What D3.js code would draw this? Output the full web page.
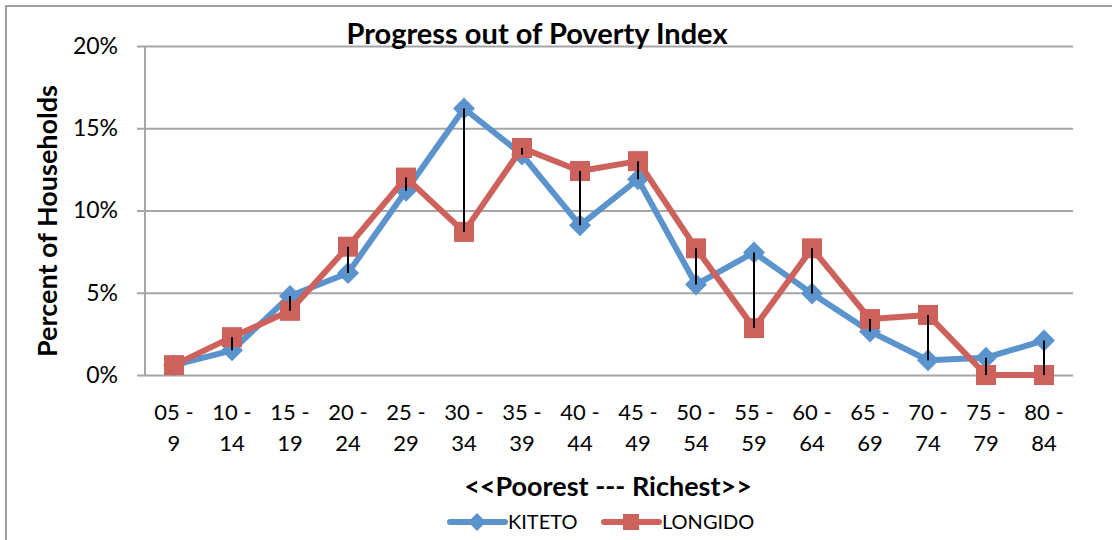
<!DOCTYPE html>
<html>
<head>
<meta charset="utf-8">
<script src="https://cdn.jsdelivr.net/npm/d3@7"></script>
<style>
  body { margin: 0; background: #fff; }
  svg text { font-family: Lato, "Open Sans", sans-serif; fill: #000; }
</style>
</head>
<body>
<script>
// Poverty score bands
const categories = ["05 - 9", "10 - 14", "15 - 19", "20 - 24", "25 - 29", "30 - 34", "35 - 39", "40 - 44",
  "45 - 49", "50 - 54", "55 - 59", "60 - 64", "65 - 69", "70 - 74", "75 - 79", "80 - 84"];
const kiteto = [0.6, 1.5, 4.8, 6.2, 11.2, 16.2, 13.4, 9.1, 11.9, 5.5, 7.45, 4.95, 2.65, 0.9, 1.05, 2.1];
const longido = [0.6, 2.3, 3.9, 7.8, 12.0, 8.7, 13.8, 12.4, 13.0, 7.7, 2.85, 7.7, 3.4, 3.65, 0, 0];
const yTicks = [0, 5, 10, 15, 20];

const width = 1112, height = 540;
const margin = { top: 46, right: 39, bottom: 165, left: 145 };

const svg = d3.select("body").append("svg")
  .attr("width", width)
  .attr("height", height);

// outer frame (right and bottom edges fall outside the picture)
svg.append("rect")
  .attr("x", 6).attr("y", 6)
  .attr("width", width + 20).attr("height", height + 20)
  .attr("fill", "none")
  .attr("stroke", "#a0a0a0")
  .attr("stroke-width", 2);

const x = d3.scaleBand()
  .domain(categories)
  .range([margin.left, width - margin.right]);

const y = d3.scaleLinear()
  .domain([0, 20])
  .range([height - margin.bottom, margin.top]);

// gridlines + y axis
const yAxis = svg.append("g")
  .attr("transform", `translate(${margin.left},0)`)
  .call(d3.axisLeft(y).tickValues(yTicks)
    .tickSize(-(width - margin.left - margin.right))
    .tickSizeOuter(0)
    .tickFormat(d => d + "%"));
yAxis.select(".domain").remove();
yAxis.selectAll(".tick line")
  .attr("x1", -8)
  .attr("stroke", "#a6a6a6")
  .attr("stroke-width", 2);
yAxis.selectAll(".tick text")
  .attr("x", -27)
  .style("font-size", "23px");

// vertical axis line
svg.append("line")
  .attr("x1", margin.left).attr("x2", margin.left)
  .attr("y1", y(20)).attr("y2", y(0))
  .attr("stroke", "#a6a6a6")
  .attr("stroke-width", 2);

// x tick labels on two lines
const xLabels = svg.append("g");
categories.forEach(c => {
  const parts = c.split(" - ");
  const t = xLabels.append("text")
    .attr("text-anchor", "middle")
    .style("font-size", "22px");
  t.append("tspan").attr("x", x(c) + x.bandwidth() / 2).attr("y", 420).text(parts[0] + " -");
  t.append("tspan").attr("x", x(c) + x.bandwidth() / 2).attr("y", 451).text(parts[1]);
});

const cx = (d, i) => x(categories[i]) + x.bandwidth() / 2;
const line = d3.line().x(cx).y(d => y(d));

const blue = "#5b93cc", red = "#cd615b";

svg.append("path")
  .datum(kiteto)
  .attr("d", line)
  .attr("fill", "none")
  .attr("stroke", blue)
  .attr("stroke-width", 6)
  .attr("stroke-linejoin", "round");

svg.selectAll("path.diamond")
  .data(kiteto)
  .enter().append("path")
  .attr("class", "diamond")
  .attr("transform", (d, i) => `translate(${cx(d, i)},${y(d)})`)
  .attr("d", "M0,-11L11,0L0,11L-11,0Z")
  .attr("fill", blue);

svg.append("path")
  .datum(longido)
  .attr("d", line)
  .attr("fill", "none")
  .attr("stroke", red)
  .attr("stroke-width", 6)
  .attr("stroke-linejoin", "round");

svg.selectAll("rect.sq")
  .data(longido)
  .enter().append("rect")
  .attr("class", "sq")
  .attr("x", (d, i) => cx(d, i) - 10)
  .attr("y", d => y(d) - 10)
  .attr("width", 20)
  .attr("height", 20)
  .attr("fill", red);

// high-low lines between the two series
svg.selectAll("line.hl")
  .data(kiteto)
  .enter().append("line")
  .attr("class", "hl")
  .attr("x1", cx).attr("x2", cx)
  .attr("y1", d => y(d))
  .attr("y2", (d, i) => y(longido[i]))
  .attr("stroke", "#000")
  .attr("stroke-width", 2);

// title
svg.append("text")
  .attr("x", 537).attr("y", 44)
  .attr("text-anchor", "middle")
  .style("font-size", "29px")
  .style("font-weight", "bold")
  .text("Progress out of Poverty Index");

// axis titles
svg.append("text")
  .attr("transform", "translate(57,221) rotate(-90)")
  .attr("text-anchor", "middle")
  .style("font-size", "27px")
  .style("font-weight", "bold")
  .text("Percent of Households");

svg.append("text")
  .attr("x", 608).attr("y", 496)
  .attr("text-anchor", "middle")
  .style("font-size", "27px")
  .style("font-weight", "bold")
  .text("<<Poorest --- Richest>>");

// legend
const legend = [
  { name: "KITETO", color: blue, shape: "diamond", x0: 450 },
  { name: "LONGIDO", color: red, shape: "square", x0: 604 }
];
legend.forEach(l => {
  const g = svg.append("g").attr("transform", `translate(${l.x0},522)`);
  g.append("line")
    .attr("x1", 0).attr("x2", 55)
    .attr("stroke", l.color).attr("stroke-width", 6)
    .attr("stroke-linecap", "round");
  if (l.shape === "diamond") {
    g.append("path").attr("d", "M27,-9L36,0L27,9L18,0Z").attr("fill", l.color);
  } else {
    g.append("rect").attr("x", 19).attr("y", -8).attr("width", 16).attr("height", 16).attr("fill", l.color);
  }
  g.append("text")
    .attr("x", 58).attr("y", 7)
    .style("font-size", "20px")
    .text(l.name);
});
</script>
</body>
</html>
